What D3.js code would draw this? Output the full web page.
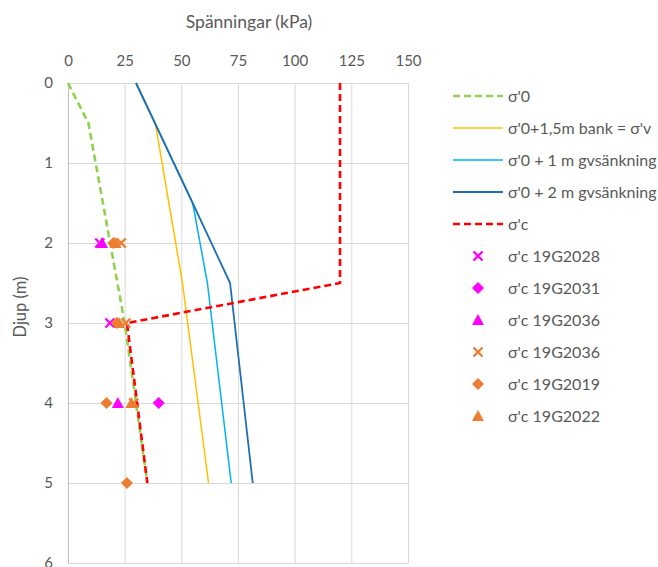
<!DOCTYPE html>
<html>
<head>
<meta charset="utf-8">
<script src="https://cdn.jsdelivr.net/npm/d3@7"></script>
<style>
  html, body { margin: 0; padding: 0; background: #fff; }
  svg { display: block; font-family: Lato, "Open Sans", sans-serif; }
</style>
</head>
<body>
<svg id="chart" width="658" height="567"></svg>
<script>
// Axis ticks
const xTicks = [0, 25, 50, 75, 100, 125, 150];
const yTicks = [0, 1, 2, 3, 4, 5, 6];

// Stress profiles: depth (m) and stress (kPa)
const sigma0Depth = [0, 0.5, 3, 5];
const sigma0Value = [0, 9, 25, 35];

const bankDepth = [0, 0.5, 2.5, 5];
const bankValue = [30, 38.5, 50.5, 62];

const gv1Depth = [0, 1.5, 2.5, 5];
const gv1Value = [30, 55, 61.5, 72];

const gv2Depth = [0, 1.5, 2.5, 5];
const gv2Value = [30, 55, 71.5, 81.5];

const sigmaCDepth = [0, 2.5, 3, 5];
const sigmaCValue = [120, 120, 26, 35];

// Preconsolidation tests per borehole
const g2028Depth = [2, 3];
const g2028Value = [14, 18.5];
const g2031Depth = [4];
const g2031Value = [40];
const g2036mDepth = [2, 4];
const g2036mValue = [15, 22];
const g2036oDepth = [2, 3, 4];
const g2036oValue = [23.5, 25.5, 29];
const g2019Depth = [2, 3, 4, 5];
const g2019Value = [20, 21.5, 17, 26];
const g2022Depth = [2, 3, 4];
const g2022Value = [21, 22.5, 28];

const lineSeries = [
  { name: "σ'0", depth: sigma0Depth, value: sigma0Value, color: "#92D050", width: 2.6, dash: "7,4" },
  { name: "σ'0+1,5m bank = σ'v", depth: bankDepth, value: bankValue, color: "#FFC000", width: 1.5, dash: null },
  { name: "σ'0 + 1 m gvsänkning", depth: gv1Depth, value: gv1Value, color: "#00B0F0", width: 1.5, dash: null },
  { name: "σ'0 + 2 m gvsänkning", depth: gv2Depth, value: gv2Value, color: "#1F6FB5", width: 1.8, dash: null },
  { name: "σ'c", depth: sigmaCDepth, value: sigmaCValue, color: "#FF0000", width: 2.6, dash: "7,4" }
];

const pointSeries = [
  { name: "σ'c 19G2028", depth: g2028Depth, value: g2028Value, color: "#FF00FF", shape: "x" },
  { name: "σ'c 19G2031", depth: g2031Depth, value: g2031Value, color: "#FF00FF", shape: "diamond" },
  { name: "σ'c 19G2036", depth: g2036mDepth, value: g2036mValue, color: "#FF00FF", shape: "triangle" },
  { name: "σ'c 19G2036", depth: g2036oDepth, value: g2036oValue, color: "#ED7D31", shape: "x" },
  { name: "σ'c 19G2019", depth: g2019Depth, value: g2019Value, color: "#ED7D31", shape: "diamond" },
  { name: "σ'c 19G2022", depth: g2022Depth, value: g2022Value, color: "#ED7D31", shape: "triangle" }
];

const svg = d3.select("#chart");
const x = d3.scaleLinear().domain([0, 150]).range([68, 408]);
const y = d3.scaleLinear().domain([0, 6]).range([83, 563]);

// Gridlines
const grid = svg.append("g").attr("stroke", "#D9D9D9").attr("stroke-width", 1);
grid.selectAll("line.h").data(yTicks).join("line")
  .attr("x1", x(0)).attr("x2", x(150))
  .attr("y1", d => y(d) + 0.5).attr("y2", d => y(d) + 0.5);
grid.selectAll("line.v").data(xTicks.slice(1)).join("line")
  .attr("x1", d => x(d) + 0.5).attr("x2", d => x(d) + 0.5)
  .attr("y1", y(0)).attr("y2", y(6));
svg.append("line")
  .attr("x1", x(0) + 0.5).attr("x2", x(0) + 0.5)
  .attr("y1", y(0)).attr("y2", y(6))
  .attr("stroke", "#BFBFBF").attr("stroke-width", 1);

// Axes
const xAxis = svg.append("g").attr("transform", `translate(0,${y(0)})`)
  .call(d3.axisTop(x).tickValues(xTicks).tickSize(0).tickPadding(17));
const yAxis = svg.append("g").attr("transform", `translate(${x(0)},0)`)
  .call(d3.axisLeft(y).tickValues(yTicks).tickFormat(d3.format("d")).tickSize(0).tickPadding(15));
[xAxis, yAxis].forEach(a => {
  a.select(".domain").remove();
  a.selectAll("text").attr("fill", "#595959").attr("font-size", 15)
    .attr("font-family", "Lato, 'Open Sans', sans-serif");
});

// Axis titles
svg.append("text").attr("x", 249).attr("y", 28).attr("text-anchor", "middle")
  .attr("fill", "#595959").attr("font-size", 17.5).text("Spänningar (kPa)");
svg.append("text").attr("transform", "translate(26,307) rotate(-90)")
  .attr("text-anchor", "middle").attr("fill", "#595959").attr("font-size", 16.5)
  .text("Djup (m)");

// Lines
const line = d3.line().x(d => x(d[1])).y(d => y(d[0]));
svg.append("g").selectAll("path").data(lineSeries).join("path")
  .attr("d", s => line(d3.zip(s.depth, s.value)))
  .attr("fill", "none")
  .attr("stroke", s => s.color)
  .attr("stroke-width", s => s.width)
  .attr("stroke-dasharray", s => s.dash)
  .attr("stroke-linejoin", "round");

// Marker symbols
function drawMarker(g, shape, color) {
  if (shape === "x") {
    g.append("path").attr("d", "M-4.5,-4.5L4.5,4.5M-4.5,4.5L4.5,-4.5")
      .attr("stroke", color).attr("stroke-width", 2.4).attr("fill", "none");
  } else if (shape === "diamond") {
    g.append("path").attr("d", "M0,-6L6,0L0,6L-6,0Z").attr("fill", color);
  } else {
    g.append("path").attr("d", "M0,-6L6,5L-6,5Z").attr("fill", color);
  }
}

pointSeries.forEach(s => {
  const gs = svg.append("g");
  d3.zip(s.depth, s.value).forEach(p => {
    const g = gs.append("g").attr("transform", `translate(${x(p[1])},${y(p[0])})`);
    drawMarker(g, s.shape, s.color);
  });
});

// Legend
const legend = svg.append("g");
const rowY = i => 96 + i * 32;
lineSeries.forEach((s, i) => {
  legend.append("line")
    .attr("x1", 453).attr("x2", 503).attr("y1", rowY(i)).attr("y2", rowY(i))
    .attr("stroke", s.color).attr("stroke-width", s.width)
    .attr("stroke-dasharray", s.dash);
  legend.append("text").attr("x", 508).attr("y", rowY(i)).attr("dy", "0.35em")
    .attr("fill", "#595959").attr("font-size", 16).text(s.name);
});
pointSeries.forEach((s, j) => {
  const i = j + lineSeries.length;
  const g = legend.append("g").attr("transform", `translate(478,${rowY(i)})`);
  drawMarker(g, s.shape, s.color);
  legend.append("text").attr("x", 508).attr("y", rowY(i)).attr("dy", "0.35em")
    .attr("fill", "#595959").attr("font-size", 16).text(s.name);
});
</script>
</body>
</html>
